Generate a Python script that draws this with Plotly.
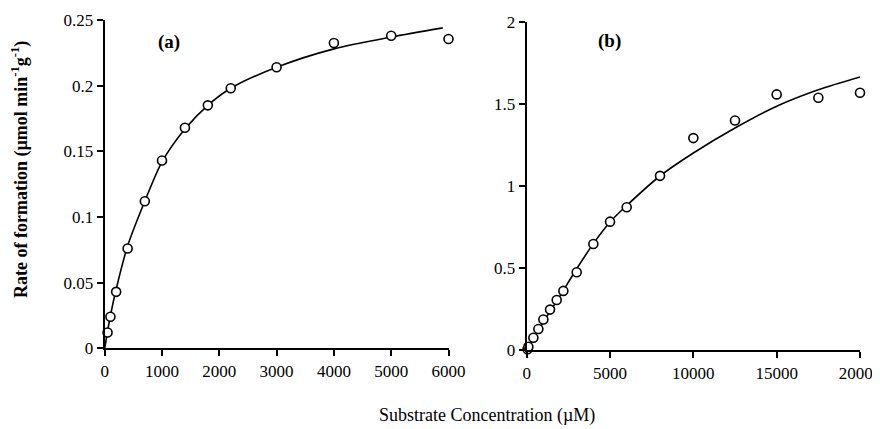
import plotly.graph_objects as go

# ---- data ----
conc_a = [50, 100, 200, 400, 700, 1000, 1400, 1800, 2200, 3000, 4000, 5000, 6000]
rate_a = [0.012, 0.024, 0.043, 0.076, 0.112, 0.143, 0.168, 0.185, 0.198, 0.214, 0.2325, 0.238, 0.2355]
fit_x_a = [0, 50, 100, 200, 400, 700, 1000, 1400, 1800, 2200, 3000, 4000, 5000, 5900]
fit_y_a = [0.0, 0.013, 0.025, 0.045, 0.078, 0.112, 0.142, 0.167, 0.185, 0.198, 0.214, 0.228, 0.237, 0.244]

conc_b = [50, 100, 400, 700, 1000, 1400, 1800, 2200, 3000, 4000, 5000, 6000, 8000, 10000, 12500, 15000, 17500, 20000]
rate_b = [0.005, 0.02, 0.075, 0.128, 0.186, 0.246, 0.305, 0.36, 0.474, 0.646, 0.782, 0.87, 1.061, 1.291, 1.398, 1.557, 1.537, 1.567]
fit_x_b = [0, 1000, 2000, 3000, 4000, 5000, 6000, 8000, 10000, 12500, 15000, 17500, 20000]
fit_y_b = [0.0, 0.17, 0.33, 0.495, 0.648, 0.78, 0.88, 1.06, 1.2, 1.352, 1.485, 1.585, 1.663]

yticks_a = [0, 0.05, 0.1, 0.15, 0.2, 0.25]
ytext_a = ["0", "0.05", "0.1", "0.15", "0.2", "0.25"]
xticks_a = [0, 1000, 2000, 3000, 4000, 5000, 6000]
yticks_b = [0, 0.5, 1, 1.5, 2]
ytext_b = ["0", "0.5", "1", "1.5", "2"]
xticks_b = [0, 5000, 10000, 15000, 20000]

panel_labels = ["(a)", "(b)"]
x_title = "Substrate Concentration (µM)"
y_title = "Rate of formation (µmol min<sup>-1</sup>g<sup>-1</sup>)"

FONT = "Liberation Serif"
OFF = 8                      # page body margin offset
W, H = 880 - OFF, 429 - OFF

fig = go.Figure()
line_style = dict(color="black", width=1.6, shape="spline", smoothing=0.8)
marker_style = dict(symbol="circle", size=9, color="white", line=dict(color="black", width=1.6))

fig.add_trace(go.Scatter(x=fit_x_a, y=fit_y_a, mode="lines", line=line_style,
                         xaxis="x", yaxis="y", showlegend=False, hoverinfo="skip"))
fig.add_trace(go.Scatter(x=conc_a, y=rate_a, mode="markers", marker=marker_style,
                         xaxis="x", yaxis="y", showlegend=False, cliponaxis=False))
fig.add_trace(go.Scatter(x=fit_x_b, y=fit_y_b, mode="lines", line=line_style,
                         xaxis="x2", yaxis="y2", showlegend=False, hoverinfo="skip"))
fig.add_trace(go.Scatter(x=conc_b, y=rate_b, mode="markers", marker=marker_style,
                         xaxis="x2", yaxis="y2", showlegend=False, cliponaxis=False))

def px_x(p):
    return (p - OFF) / W

def px_y(p):
    return 1 - (p - OFF) / H

axis_common = dict(showline=True, linecolor="black", linewidth=2.2, ticks="outside",
                   ticklen=6, tickwidth=2, tickcolor="black", showgrid=False, zeroline=False,
                   tickfont=dict(family=FONT, size=17, color="black"), automargin=False,
                   ticklabeloverflow="allow")

fig.update_layout(
    width=W, height=H,
    margin=dict(l=0, r=0, t=0, b=0),
    paper_bgcolor="white", plot_bgcolor="white",
    xaxis=dict(domain=[px_x(104.7), px_x(448.5)], range=[0, 6000], anchor="y",
               tickvals=xticks_a, ticktext=[str(v) for v in xticks_a], **axis_common),
    yaxis=dict(domain=[px_y(348.3), px_y(20)], range=[0, 0.25], anchor="x",
               tickvals=yticks_a, ticktext=ytext_a, **axis_common),
    xaxis2=dict(domain=[px_x(526.7), px_x(860)], range=[0, 20000], anchor="y2",
                tickvals=xticks_b, ticktext=[str(v) for v in xticks_b], **axis_common),
    yaxis2=dict(domain=[px_y(350), px_y(21.7)], range=[0, 2], anchor="x2",
                tickvals=yticks_b, ticktext=ytext_b, **axis_common),
    annotations=[
        dict(text="<b>" + panel_labels[0] + "</b>", x=px_x(169), y=px_y(42), xref="paper", yref="paper",
             showarrow=False, xanchor="center", yanchor="middle",
             font=dict(family=FONT, size=19, color="black")),
        dict(text="<b>" + panel_labels[1] + "</b>", x=px_x(609), y=px_y(41), xref="paper", yref="paper",
             showarrow=False, xanchor="center", yanchor="middle",
             font=dict(family=FONT, size=19, color="black")),
        dict(text=x_title, x=px_x(487), y=px_y(415), xref="paper", yref="paper",
             showarrow=False, xanchor="center", yanchor="middle",
             font=dict(family=FONT, size=18, color="black")),
        dict(text="<b>" + y_title + "</b>", x=px_x(20), y=px_y(170), xref="paper", yref="paper",
             showarrow=False, xanchor="center", yanchor="middle", textangle=-90,
             font=dict(family=FONT, size=18, color="black")),
    ],
)

fig.write_html("out.html")
